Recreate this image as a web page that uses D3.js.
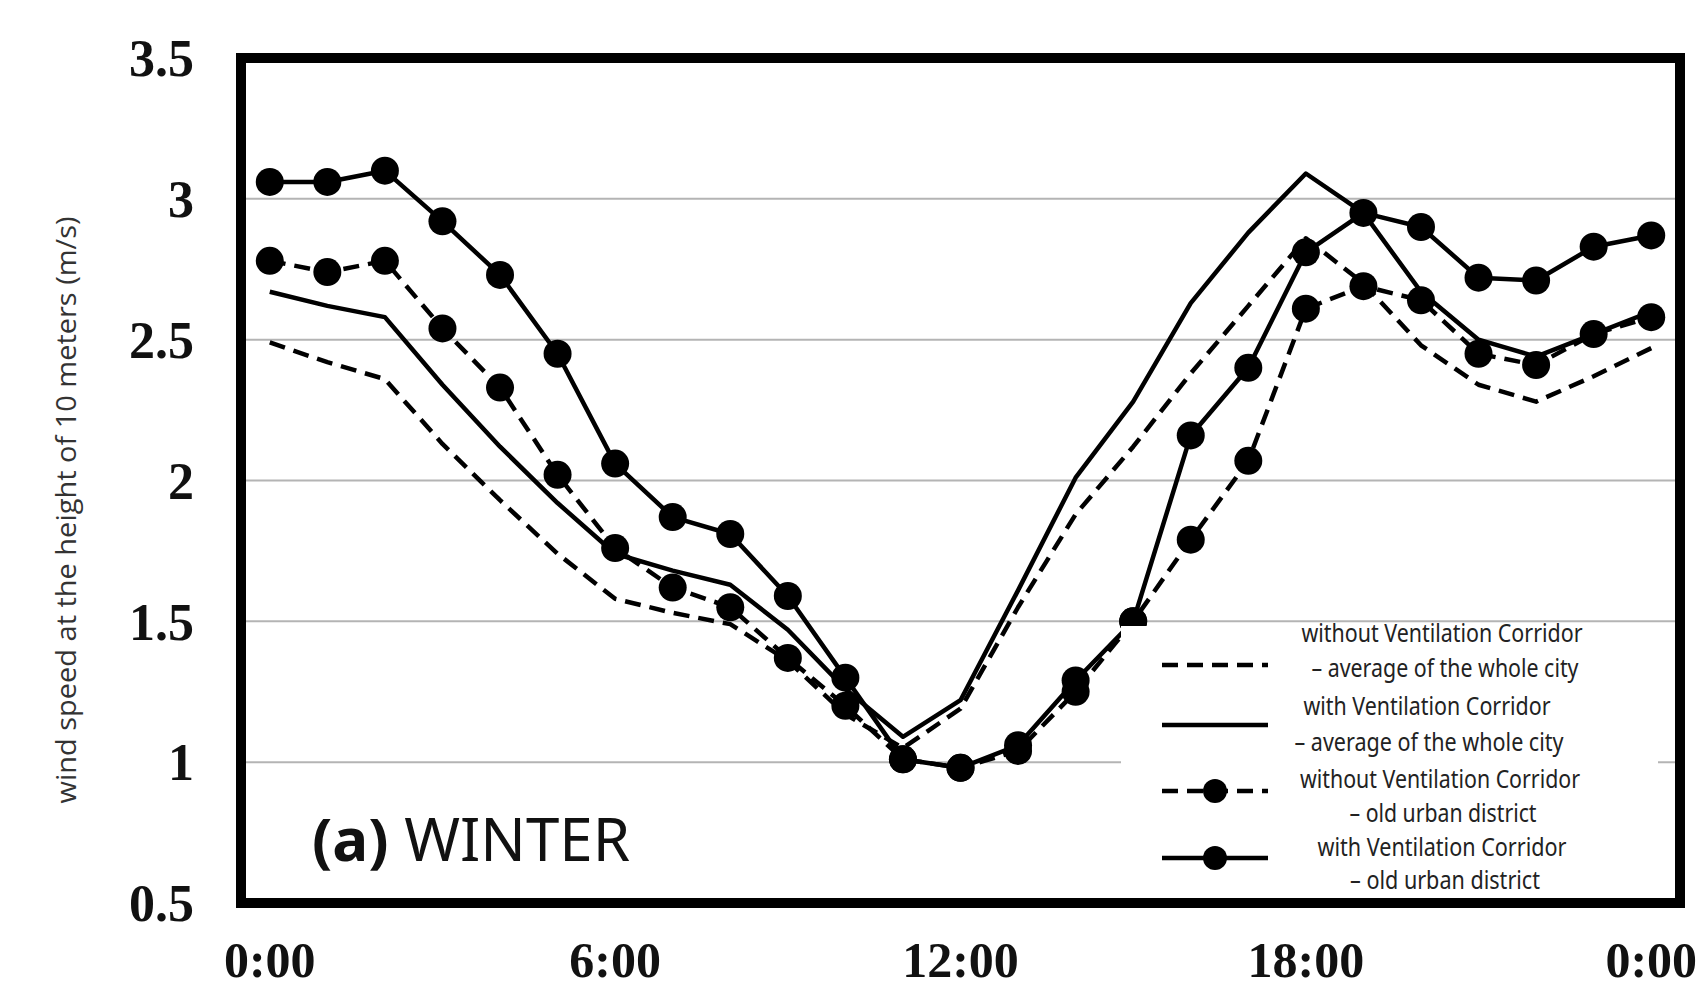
<!DOCTYPE html>
<html><head><meta charset="utf-8">
<script src="https://cdn.jsdelivr.net/npm/d3@7"></script>
<style>html,body{margin:0;padding:0;background:#fff;}svg{display:block;}</style>
</head><body>
<script>
const hours = d3.range(0, 25).map(h => h + ":00");
const xTickLabels = ["0:00", "6:00", "12:00", "18:00", "0:00"];
const xTickIdx = [0, 6, 12, 18, 24];
const yTicks = [0.5, 1, 1.5, 2, 2.5, 3, 3.5];
const yTickLabels = ["0.5", "1", "1.5", "2", "2.5", "3", "3.5"];

const withoutAvg = [2.49,2.42,2.36,2.13,1.93,1.74,1.58,1.53,1.49,1.36,1.17,1.05,1.19,1.55,1.88,2.12,2.38,2.62,2.86,2.70,2.48,2.34,2.28,2.37,2.47];
const withAvg    = [2.67,2.62,2.58,2.34,2.12,1.92,1.74,1.68,1.63,1.47,1.26,1.09,1.22,1.61,2.01,2.28,2.63,2.88,3.09,2.95,2.67,2.50,2.44,2.52,2.60];
const withoutOld = [2.78,2.74,2.78,2.54,2.33,2.02,1.76,1.62,1.55,1.37,1.20,1.01,0.98,1.04,1.25,1.50,1.79,2.07,2.61,2.69,2.64,2.45,2.41,2.52,2.58];
const withOld    = [3.06,3.06,3.10,2.92,2.73,2.45,2.06,1.87,1.81,1.59,1.30,1.01,0.98,1.06,1.29,1.50,2.16,2.40,2.81,2.95,2.90,2.72,2.71,2.83,2.87];

const seriesNames = [
  ["without Ventilation Corridor", "– average of the whole city"],
  ["with Ventilation Corridor", "– average of the whole city"],
  ["without Ventilation Corridor", "– old urban district"],
  ["with Ventilation Corridor", "– old urban district"]
];
const seriesValues = [withoutAvg, withAvg, withoutOld, withOld];
const seriesDashed = [true, false, true, false];
const seriesMarkers = [false, false, true, true];

const W = 1703, H = 989;
const L = 241, R = 1680, T = 58, B = 903;

const svg = d3.select("body").append("svg").attr("width", W).attr("height", H);

const x = d3.scaleBand().domain(hours).range([L, R]);
const xc = i => x(hours[i]) + x.bandwidth() / 2;
const y = d3.scaleLinear().domain([0.5, 3.5]).range([B, T]);

// gridlines
svg.append("g").selectAll("line").data(yTicks.slice(1, -1)).join("line")
  .attr("x1", L).attr("x2", R).attr("y1", d => y(d)).attr("y2", d => y(d))
  .attr("stroke", "#b4b4b4").attr("stroke-width", 2);

// y tick labels
svg.append("g").selectAll("text").data(yTicks).join("text")
  .attr("x", 194).attr("y", d => y(d)).attr("dy", "0.35em")
  .attr("text-anchor", "end")
  .attr("font-family", "'Liberation Serif', 'Times New Roman', serif")
  .attr("font-weight", "bold").attr("font-size", 52).attr("fill", "#111")
  .text((d, i) => yTickLabels[i]);

// x tick labels
svg.append("g").selectAll("text").data(xTickIdx).join("text")
  .attr("x", d => xc(d)).attr("y", 977)
  .attr("text-anchor", "middle")
  .attr("font-family", "'Liberation Serif', 'Times New Roman', serif")
  .attr("font-weight", "bold").attr("font-size", 50).attr("fill", "#111")
  .text((d, i) => xTickLabels[i]);

// y axis title
svg.append("text")
  .attr("transform", "translate(76,510) rotate(-90)")
  .attr("text-anchor", "middle")
  .attr("font-family", "'Open Sans', 'Noto Sans', sans-serif")
  .attr("font-size", 27).attr("fill", "#333")
  .attr("textLength", 587).attr("lengthAdjust", "spacingAndGlyphs")
  .text("wind speed at the height of 10 meters (m/s)");

// series
const line = d3.line().x((d, i) => xc(i)).y(d => y(d));
seriesValues.forEach((vals, k) => {
  svg.append("path").datum(vals)
    .attr("d", line).attr("fill", "none")
    .attr("stroke", "#000").attr("stroke-width", 4.5)
    .attr("stroke-linejoin", "round")
    .attr("stroke-dasharray", seriesDashed[k] ? "16,9" : null);
  if (seriesMarkers[k]) {
    svg.append("g").selectAll("circle").data(vals).join("circle")
      .attr("cx", (d, i) => xc(i)).attr("cy", d => y(d)).attr("r", 14)
      .attr("fill", "#000");
  }
});

// legend
const lg = svg.append("g");
lg.append("rect").attr("x", 1121).attr("y", 626).attr("width", 537).attr("height", 272).attr("fill", "#fff");
const legLineY = [665, 725, 791, 858];
const legTextY = [[633, 668], [706, 742], [779, 813], [847, 880]];
const legTextCx = [[1442, 1445], [1427, 1429], [1440, 1443], [1442, 1445]];
const legTextLen = [[281, 267], [247, 269], [280, 187], [249, 190]];
seriesNames.forEach((names, k) => {
  lg.append("line").attr("x1", 1162).attr("x2", 1268)
    .attr("y1", legLineY[k]).attr("y2", legLineY[k])
    .attr("stroke", "#000").attr("stroke-width", 4.5)
    .attr("stroke-dasharray", seriesDashed[k] ? "16,9" : null);
  if (seriesMarkers[k]) {
    lg.append("circle").attr("cx", 1215).attr("cy", legLineY[k]).attr("r", 12).attr("fill", "#000");
  }
  names.forEach((t, j) => {
    lg.append("text")
      .attr("x", legTextCx[k][j]).attr("y", legTextY[k][j]).attr("dy", "0.35em")
      .attr("text-anchor", "middle")
      .attr("font-family", "'Liberation Sans Narrow', 'Noto Sans', sans-serif")
      .attr("font-size", 25).attr("fill", "#222")
      .attr("textLength", legTextLen[k][j]).attr("lengthAdjust", "spacingAndGlyphs")
      .text(t);
  });
});

// panel label
const lbl = svg.append("text").attr("x", 312).attr("y", 861)
  .attr("font-family", "'Noto Sans', 'Open Sans', sans-serif")
  .attr("font-size", 60).attr("fill", "#111");
lbl.append("tspan").attr("font-weight", "bold").text("(a)");
lbl.append("tspan").text(" WINTER");

// border
svg.append("rect").attr("x", L).attr("y", T).attr("width", R - L).attr("height", B - T)
  .attr("fill", "none").attr("stroke", "#000").attr("stroke-width", 10);
</script>
</body></html>
